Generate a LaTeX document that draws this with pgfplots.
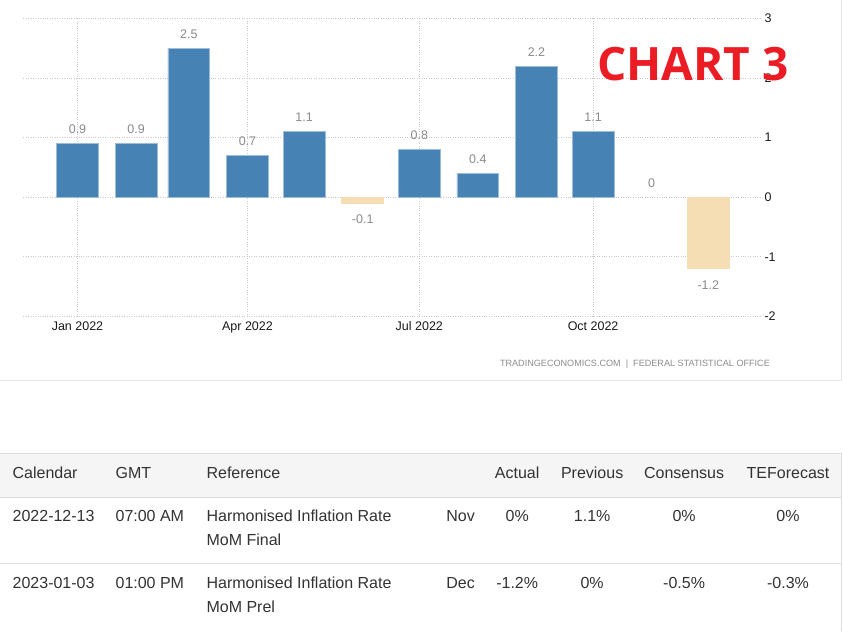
\documentclass[border=0pt]{standalone}
\usepackage{pgfplots}
\pgfplotsset{compat=1.18}
\usepackage{fontspec}
\setmainfont{Liberation Sans}
\newfontfamily\stampfont{Open Sans}
\definecolor{barblue}{HTML}{4682B4}
\definecolor{baredge}{HTML}{9DBDD9}
\definecolor{barneg}{HTML}{F5DEB3}
\definecolor{stampred}{HTML}{EC1C24}
\definecolor{gridc}{HTML}{C8C8C8}
\definecolor{txt}{HTML}{333333}
\definecolor{lbl}{HTML}{8A8A8A}
\definecolor{rule}{HTML}{DDDDDD}

\begin{document}
\begin{tikzpicture}
% page frame, 1px = 1pt
\fill[white] (0,0) rectangle (843pt,631pt);

\begin{axis}[
    at={(23pt,315pt)}, anchor=south west,
    scale only axis,
    width=737pt, height=298pt,
    xmin=-28.6, xmax=361.4,
    ymin=-2, ymax=3,
    axis line style={draw=none},
    major tick length=0pt,
    xtick={0,90,181,273},
    xticklabels={Jan 2022,Apr 2022,Jul 2022,Oct 2022},
    ytick={-2,-1,0,1,2,3},
    yticklabel pos=right,
    /pgf/number format/assume math mode=true,
    xmajorgrids, ymajorgrids,
    grid style={dotted, gridc, line width=0.9pt},
    ticklabel style={font=\fontsize{12.5}{14}\selectfont, color=black!90},
    yticklabel style={xshift=1pt},
    xticklabel style={yshift=-2pt},
    clip=false,
    ybar, bar width=22.2,
]
\addplot[fill=barblue, draw=baredge, line width=0.8pt, bar shift=0pt,
    nodes near coords={\pgfmathprintnumber{\pgfplotspointmeta}},
    every node near coord/.append style={anchor=center, yshift=14pt,
        font=\fontsize{12.5}{14}\selectfont, color=lbl}]
coordinates {
    (0,0.9) (31,0.9) (59,2.5) (90,0.7) (120,1.1)
    (181,0.8) (212,0.4) (243,2.2) (273,1.1)
};
% November: zero change, label only
\addplot[fill=none, draw=none, bar shift=0pt,
    nodes near coords={\pgfmathprintnumber{\pgfplotspointmeta}},
    every node near coord/.append style={anchor=center, yshift=14pt,
        font=\fontsize{12.5}{14}\selectfont, color=lbl}]
coordinates {
    (304,0)
};
\addplot[fill=barneg, draw=barneg, line width=0.8pt, bar shift=0pt,
    nodes near coords={\pgfmathprintnumber{\pgfplotspointmeta}},
    every node near coord/.append style={anchor=center, yshift=-16pt,
        font=\fontsize{12.5}{14}\selectfont, color=lbl}]
coordinates {
    (151,-0.1) (334,-1.2)
};
\end{axis}

\begin{scope}[x=1pt, y=-1pt, shift={(0pt,631pt)}]
% chart box edges
\draw[rule!70, line width=1pt] (841,0) -- (841,380) -- (0,380);
\node[anchor=center, font=\stampfont\bfseries\fontsize{46}{50}\selectfont, text=stampred, inner sep=0pt]
    at (693,64) {CHART 3};
\node[anchor=mid east, font=\fontsize{9.1}{10}\selectfont, text=black!45, inner sep=0pt]
    at (770,364) {TRADINGECONOMICS.COM \ | \ FEDERAL STATISTICAL OFFICE};

% calendar table
\fill[black!4] (0,453) rectangle (841,497);
\draw[rule, line width=1pt] (0,453) -- (841,453);
\draw[rule, line width=1pt] (0,497) -- (841,497);
\draw[rule, line width=1pt] (0,563) -- (841,563);
\draw[rule, line width=1pt] (841,453) -- (841,631);

\begin{scope}[every node/.style={font=\fontsize{16}{18}\selectfont, text=txt, inner sep=0pt}]
\node[anchor=mid west] at (12,476) {Calendar};
\node[anchor=mid west] at (115,476) {GMT};
\node[anchor=mid west] at (206,476) {Reference};
\node[anchor=mid] at (517,476) {Actual};
\node[anchor=mid] at (592,476) {Previous};
\node[anchor=mid] at (684,476) {Consensus};
\node[anchor=mid] at (788,476) {TEForecast};

\node[anchor=mid west] at (12,519) {2022-12-13};
\node[anchor=mid west] at (115,519) {07:00 AM};
\node[anchor=mid west] at (206,519) {Harmonised Inflation Rate};
\node[anchor=mid west] at (206,543) {MoM Final};
\node[anchor=mid west] at (446,519) {Nov};
\node[anchor=mid] at (517,519) {0\%};
\node[anchor=mid] at (592,519) {1.1\%};
\node[anchor=mid] at (684,519) {0\%};
\node[anchor=mid] at (788,519) {0\%};

\node[anchor=mid west] at (12,586) {2023-01-03};
\node[anchor=mid west] at (115,586) {01:00 PM};
\node[anchor=mid west] at (206,586) {Harmonised Inflation Rate};
\node[anchor=mid west] at (206,610) {MoM Prel};
\node[anchor=mid west] at (446,586) {Dec};
\node[anchor=mid] at (517,586) {-1.2\%};
\node[anchor=mid] at (592,586) {0\%};
\node[anchor=mid] at (684,586) {-0.5\%};
\node[anchor=mid] at (788,586) {-0.3\%};
\end{scope}
\end{scope}
\end{tikzpicture}
\end{document}
